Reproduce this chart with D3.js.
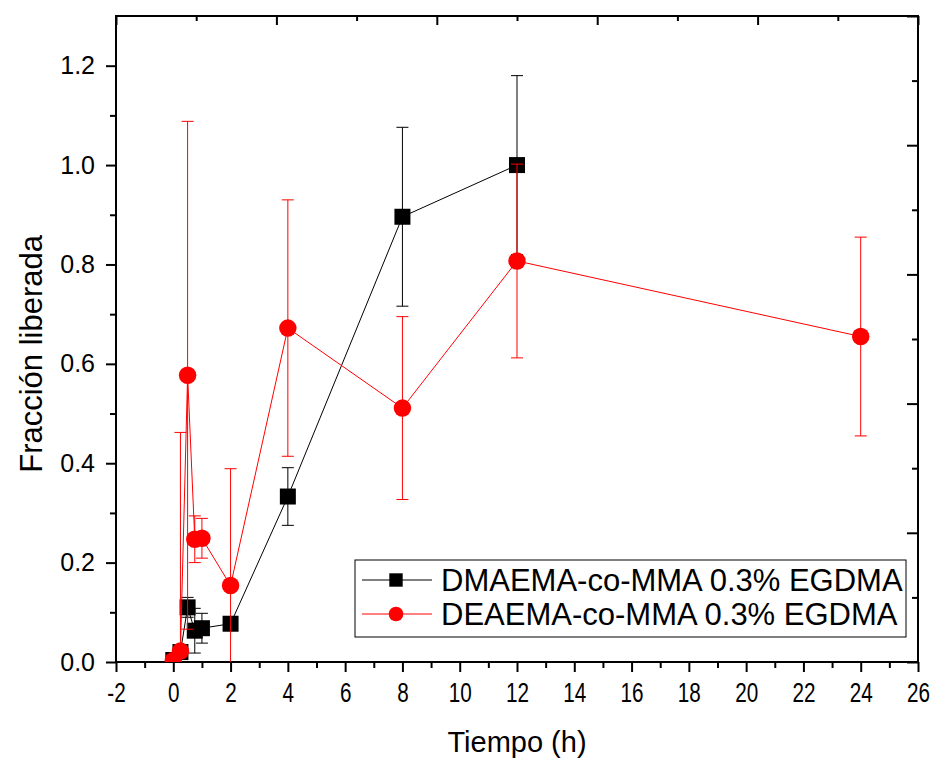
<!DOCTYPE html>
<html>
<head>
<meta charset="utf-8">
<script src="https://cdn.jsdelivr.net/npm/d3@7"></script>
<style>
  body { margin: 0; background: #fff; }
  text { font-family: "Liberation Sans", Arial, sans-serif; }
</style>
</head>
<body>
<svg id="chart" width="934" height="760"></svg>
<script>
// Tiempo (h) for each series
var tiempoDMAEMA = [0, 0.25, 0.5, 0.75, 1, 2, 4, 8, 12];
var tiempoDEAEMA = [0, 0.25, 0.5, 0.75, 1, 2, 4, 8, 12, 24];

// Fraccion liberada and error (+/-)
var dmaema    = [0.004, 0.020, 0.110, 0.063, 0.068, 0.077, 0.333, 0.896, 1.000];
var dmaemaErr = [0.003, 0.010, 0.020, 0.045, 0.030, 0.010, 0.058, 0.180, 0.180];
var deaema    = [0.003, 0.022, 0.577, 0.247, 0.249, 0.154, 0.672, 0.511, 0.807, 0.655];
var deaemaErr = [0.003, 0.440, 0.511, 0.047, 0.040, 0.235, 0.258, 0.184, 0.195, 0.200];

var seriesNames = ["DMAEMA-co-MMA 0.3% EGDMA", "DEAEMA-co-MMA 0.3% EGDMA"];
var xTicks = [-2, 0, 2, 4, 6, 8, 10, 12, 14, 16, 18, 20, 22, 24, 26];
var yTicks = [0.0, 0.2, 0.4, 0.6, 0.8, 1.0, 1.2];

var svg = d3.select("#chart"),
    margin = {top: 16, right: 16, bottom: 98, left: 116},
    width = +svg.attr("width") - margin.left - margin.right,
    height = +svg.attr("height") - margin.top - margin.bottom;

var x = d3.scaleLinear().domain([-2, 26]).range([0, width]);
var y = d3.scaleLinear().domain([0, 1.3]).range([height, 0]);
// opposite axes in the original have their own 5-division scale
var xTop = d3.scaleLinear().domain([0, 5]).range([0, width]);
var yRight = d3.scaleLinear().domain([0, 5]).range([height, 0]);

svg.append("defs").append("clipPath")
    .attr("id", "clip")
  .append("rect")
    .attr("width", width)
    .attr("height", height);

var g = svg.append("g")
    .attr("transform", "translate(" + margin.left + "," + margin.top + ")");

function styleAxis(sel) {
  sel.select(".domain").remove();
  sel.selectAll(".tick line").attr("stroke", "#000").attr("stroke-width", 2);
  sel.selectAll("text").attr("fill", "#000");
}

// minor ticks
g.append("g")
    .attr("transform", "translate(0," + height + ")")
    .call(d3.axisBottom(x).tickValues(d3.range(-1, 26, 2)).tickSize(6).tickFormat(""))
    .call(styleAxis);
g.append("g")
    .call(d3.axisLeft(y).tickValues(d3.range(0.1, 1.3, 0.2)).tickSize(6).tickFormat(""))
    .call(styleAxis);
g.append("g")
    .call(d3.axisTop(xTop).tickValues(d3.range(0.5, 5, 1)).tickSize(-5).tickFormat(""))
    .call(styleAxis);
g.append("g")
    .attr("transform", "translate(" + width + ",0)")
    .call(d3.axisRight(yRight).tickValues(d3.range(0.5, 5, 1)).tickSize(-6).tickFormat(""))
    .call(styleAxis);

// major ticks
g.append("g")
    .attr("class", "axis axis--x")
    .attr("transform", "translate(0," + height + ")")
    .call(d3.axisBottom(x).tickValues(xTicks).tickSize(10).tickPadding(10).tickFormat(d => String(d)))
    .call(styleAxis)
    .call(a => a.selectAll("text")
        .attr("font-size", 28)
        .attr("transform", "scale(0.74,1)"));

g.append("g")
    .attr("class", "axis axis--y")
    .call(d3.axisLeft(y).tickValues(yTicks).tickSize(10).tickPadding(11).tickFormat(d3.format(".1f")))
    .call(styleAxis)
    .call(a => a.selectAll("text").attr("font-size", 25));

g.append("g")
    .call(d3.axisTop(xTop).tickValues(d3.range(0, 6)).tickSize(-9).tickFormat(""))
    .call(styleAxis);
g.append("g")
    .attr("transform", "translate(" + width + ",0)")
    .call(d3.axisRight(yRight).tickValues(d3.range(0, 6)).tickSize(-11).tickFormat(""))
    .call(styleAxis);

// frame
g.append("rect")
    .attr("width", width)
    .attr("height", height)
    .attr("fill", "none")
    .attr("stroke", "#000")
    .attr("stroke-width", 2);

// axis titles
svg.append("text")
    .attr("x", margin.left + x(12))
    .attr("y", 752)
    .attr("text-anchor", "middle")
    .attr("font-size", 29)
    .text("Tiempo (h)");

svg.append("text")
    .attr("transform", "translate(42," + (margin.top + y(0.62)) + ") rotate(-90)")
    .attr("text-anchor", "middle")
    .attr("font-size", 31)
    .text("Fracción liberada");

var series = [
  {t: tiempoDMAEMA, v: dmaema, e: dmaemaErr, color: "#000", symbol: d3.symbolSquare, size: 256},
  {t: tiempoDEAEMA, v: deaema, e: deaemaErr, color: "#ff0000", symbol: d3.symbolCircle, size: 240}
];

var plot = g.append("g").attr("clip-path", "url(#clip)");
var capW = 6;

series.forEach(function(s, i) {
  var data = s.t.map(function(t, j) { return {t: t, v: s.v[j], e: s.e[j]}; });
  var sg = plot.append("g").attr("class", "series" + i);

  sg.append("path")
      .datum(data)
      .attr("fill", "none")
      .attr("stroke", s.color)
      .attr("stroke-width", 1)
      .attr("d", d3.line().x(d => x(d.t)).y(d => y(d.v)));

  var eb = sg.selectAll(".err").data(data).enter().append("g")
      .attr("stroke", s.color)
      .attr("stroke-width", 1);
  eb.append("line")
      .attr("x1", d => x(d.t)).attr("x2", d => x(d.t))
      .attr("y1", d => y(d.v - d.e)).attr("y2", d => y(d.v + d.e));
  eb.append("line")
      .attr("x1", d => x(d.t) - capW).attr("x2", d => x(d.t) + capW)
      .attr("y1", d => y(d.v + d.e)).attr("y2", d => y(d.v + d.e));
  eb.append("line")
      .attr("x1", d => x(d.t) - capW).attr("x2", d => x(d.t) + capW)
      .attr("y1", d => y(d.v - d.e)).attr("y2", d => y(d.v - d.e));

  sg.selectAll(".pt").data(data).enter().append("path")
      .attr("transform", d => "translate(" + x(d.t) + "," + y(d.v) + ")")
      .attr("d", d3.symbol().type(s.symbol).size(s.size))
      .attr("fill", s.color);
});

// legend
var legend = svg.append("g").attr("transform", "translate(355,560)");
legend.append("rect")
    .attr("width", 551)
    .attr("height", 77)
    .attr("fill", "#fff")
    .attr("stroke", "#000")
    .attr("stroke-width", 1);

series.forEach(function(s, i) {
  var row = legend.append("g").attr("transform", "translate(0," + (20 + i * 34) + ")");
  row.append("line")
      .attr("x1", 7).attr("x2", 77)
      .attr("stroke", s.color).attr("stroke-width", 1);
  row.append("path")
      .attr("transform", "translate(41,0)")
      .attr("d", d3.symbol().type(s.symbol).size(s.size * 0.7))
      .attr("fill", s.color);
  row.append("text")
      .attr("x", 86)
      .attr("dy", "0.36em")
      .attr("font-size", 31)
      .text(seriesNames[i]);
});
</script>
</body>
</html>
